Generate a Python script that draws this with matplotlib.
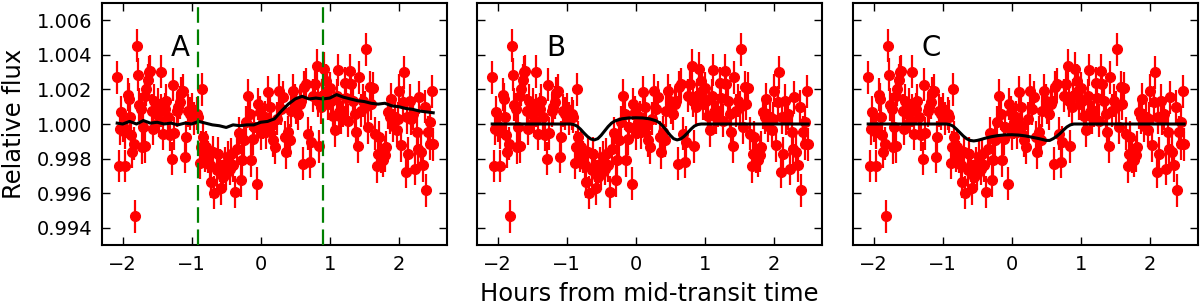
import numpy as np
import matplotlib
matplotlib.use('Agg')
import matplotlib.pyplot as plt
from matplotlib.ticker import FormatStrFormatter

# observed light curve (hours from mid-transit, flux deviation in parts per thousand)
time_h = [-2.08, -2.06, -2.04, -2.02, -1.99, -1.97, -1.96, -1.93, -1.91, -1.90,
          -1.88, -1.86, -1.84, -1.82, -1.80, -1.78, -1.76, -1.74, -1.72, -1.70,
          -1.68, -1.67, -1.66, -1.64, -1.62, -1.60, -1.58, -1.56, -1.54, -1.51,
          -1.49, -1.47, -1.45, -1.44, -1.42, -1.39, -1.37, -1.34, -1.32, -1.29,
          -1.27, -1.25, -1.22, -1.20, -1.17, -1.15, -1.13, -1.10, -1.08, -1.05,
          -1.03, -1.00, -0.97, -0.93, -0.91, -0.88, -0.87, -0.85, -0.83, -0.81,
          -0.79, -0.77, -0.74, -0.72, -0.69, -0.67, -0.64, -0.62, -0.59, -0.57,
          -0.55, -0.52, -0.50, -0.47, -0.45, -0.43, -0.40, -0.37, -0.34, -0.32,
          -0.29, -0.27, -0.24, -0.22, -0.18, -0.16, -0.14, -0.11, -0.09, -0.06,
          -0.04, -0.01, 0.01, 0.03, 0.06, 0.08, 0.11, 0.13, 0.15, 0.18,
          0.20, 0.24, 0.27, 0.29, 0.32, 0.35, 0.37, 0.40, 0.42, 0.44,
          0.47, 0.49, 0.51, 0.54, 0.57, 0.59, 0.61, 0.63, 0.65, 0.69,
          0.71, 0.73, 0.76, 0.78, 0.81, 0.83, 0.85, 0.87, 0.89, 0.92,
          0.94, 0.96, 0.98, 1.00, 1.02, 1.05, 1.07, 1.10, 1.12, 1.14,
          1.17, 1.19, 1.22, 1.24, 1.27, 1.29, 1.31, 1.34, 1.36, 1.38,
          1.41, 1.43, 1.46, 1.48, 1.51, 1.53, 1.56, 1.58, 1.60, 1.63,
          1.65, 1.68, 1.70, 1.72, 1.75, 1.77, 1.80, 1.82, 1.85, 1.87,
          1.89, 1.92, 1.94, 1.97, 1.99, 2.01, 2.04, 2.06, 2.08, 2.10,
          2.12, 2.14, 2.16, 2.18, 2.21, 2.24, 2.26, 2.28, 2.30, 2.33,
          2.35, 2.38, 2.40, 2.42, 2.45, 2.46, 2.48, 2.50]
flux_ppt = [2.70, -2.43, -0.28, 0.68, -0.10, -2.43, -0.47, 1.70, 1.45, 0.39,
            -0.66, -1.62, -1.14, -5.33, 4.52, 2.85, 1.12, 0.87, -1.34, -0.18,
            -1.30, 1.64, 2.02, 2.54, 2.98, 3.04, 0.78, -0.28, 1.35, 0.59,
            1.16, 0.20, 3.02, 0.78, -0.57, 0.87, 1.35, 0.39, -0.61, -2.01,
            2.27, -0.53, 0.78, 0.97, 1.26, 1.78, 1.93, -1.91, -0.76, 0.78,
            0.59, 0.87, 0.30, 0.59, 0.43, -2.26, -1.34, 2.02, -0.76, -1.82,
            -1.34, -1.91, -2.39, -3.35, -1.63, -3.98, -2.68, -1.72, -2.39, -3.73,
            -3.06, -2.30, -2.87, -1.91, -2.58, -1.76, -2.39, -3.93, -1.43, -0.53,
            -3.26, -2.10, -0.95, 0.11, 1.64, 0.59, -2.10, -0.86, -0.18, -3.46,
            1.16, 0.68, -0.53, 0.11, 0.39, -0.47, 1.84, 0.97, -0.09, -0.95,
            -1.34, 0.30, 1.93, 0.87, 1.54, -0.76, -1.63, -0.47, -0.95, 0.78,
            1.93, 1.35, 0.97, 0.59, 1.16, 1.35, -2.30, 2.12, 2.31, -0.57,
            -2.20, -1.05, 1.64, 2.31, 3.37, 1.35, -1.30, 0.97, 1.64, 3.21,
            2.50, 1.93, 1.16, 2.08, 1.35, 0.49, -0.37, 1.64, 3.12, 0.68,
            0.39, 0.78, 2.35, 1.51, 0.20, 3.08, 2.31, 1.35, 0.59, -0.47,
            -1.28, 2.70, 0.78, 1.35, 0.97, 4.33, -0.18, 2.12, 1.16, 2.08,
            -0.57, -2.45, -1.72, -0.76, -1.91, -2.10, -1.82, -1.34, 0.68, 0.39,
            1.45, -0.09, 0.39, -0.37, 0.30, 1.93, -1.24, 1.26, 2.98, -2.78,
            0.39, -1.72, 1.35, 0.30, 0.59, -2.58, -0.47, -1.43, 1.54, -1.63,
            -2.39, 1.01, -3.83, -0.47, -1.14, 0.11, 1.89, -1.18]
flux_err_ppt = 0.95

# model A: smoothed empirical curve
model_a_t = [-2.08, -2.0, -1.9, -1.8, -1.7, -1.6, -1.5, -1.4, -1.3, -1.2,
             -1.1, -1.0, -0.9, -0.8, -0.7, -0.6, -0.5, -0.4, -0.3, -0.2,
             -0.1, 0.0, 0.1, 0.2, 0.3, 0.4, 0.5, 0.6, 0.7, 0.8,
             0.9, 1.0, 1.1, 1.2, 1.3, 1.4, 1.5, 1.6, 1.7, 1.8,
             1.9, 2.0, 2.1, 2.2, 2.3, 2.4, 2.5]
model_a_ppt = [0.05, 0.0, 0.15, 0.0, 0.2, 0.05, 0.1, 0.0, 0.05, -0.05,
               0.05, 0.0, 0.15, 0.05, -0.05, -0.1, -0.2, -0.05, -0.1, -0.05,
               -0.05, 0.1, 0.15, 0.3, 0.75, 1.15, 1.45, 1.6, 1.45, 1.5,
               1.45, 1.5, 1.7, 1.55, 1.45, 1.35, 1.3, 1.2, 1.15, 1.2,
               1.05, 1.0, 0.9, 0.85, 0.75, 0.7, 0.65]

# model B: symmetric double dip
model_b_t = [-2.08, -0.95, -0.9, -0.85, -0.8, -0.75, -0.7, -0.65, -0.6, -0.55,
             -0.5, -0.45, -0.4, -0.35, -0.3, -0.2, -0.1, 0.0, 0.1, 0.2,
             0.3, 0.35, 0.4, 0.45, 0.5, 0.55, 0.6, 0.65, 0.7, 0.75,
             0.8, 0.85, 0.9, 0.95, 2.5]
model_b_ppt = [0.0, 0.0, -0.03, -0.12, -0.3, -0.52, -0.72, -0.87, -0.92, -0.85,
               -0.65, -0.4, -0.15, 0.05, 0.18, 0.3, 0.35, 0.36, 0.35, 0.3,
               0.18, 0.05, -0.15, -0.4, -0.65, -0.85, -0.92, -0.87, -0.72, -0.52,
               -0.3, -0.12, -0.03, 0.0, 0.0]

# model C: two dips joined by a shallow floor
model_c_t = [-2.08, -0.95, -0.9, -0.85, -0.8, -0.75, -0.7, -0.65, -0.6, -0.55,
             -0.5, -0.45, -0.4, -0.3, -0.2, -0.1, 0.0, 0.1, 0.2, 0.3,
             0.4, 0.45, 0.5, 0.55, 0.6, 0.65, 0.7, 0.75, 0.8, 0.85,
             0.9, 2.5]
model_c_ppt = [0.0, 0.0, -0.03, -0.12, -0.3, -0.5, -0.7, -0.86, -0.95, -0.98,
               -0.95, -0.9, -0.84, -0.74, -0.67, -0.63, -0.62, -0.64, -0.69, -0.77,
               -0.85, -0.9, -0.95, -0.95, -0.85, -0.72, -0.55, -0.35, -0.17, -0.05,
               0.0, 0.0]

window_edges = [-0.91, 0.91]
panel_labels = ['A', 'B', 'C']
x_ticks = [-2, -1, 0, 1, 2]
y_ticks = [0.994, 0.996, 0.998, 1.000, 1.002, 1.004, 1.006]

models = [(model_a_t, model_a_ppt), (model_b_t, model_b_ppt), (model_c_t, model_c_ppt)]
lefts = [102, 477, 853]

fig = plt.figure(figsize=(12, 3.05), dpi=100)
flux = 1 + np.array(flux_ppt) / 1000.0
err = flux_err_ppt / 1000.0

for i, left in enumerate(lefts):
    ax = fig.add_axes([left / 1200, 60 / 305, 345 / 1200, 242 / 305])
    ax.errorbar(time_h, flux, yerr=err, fmt='o', color='r', ms=7, mec='r',
                elinewidth=1.6, capsize=0, zorder=2)
    mt, mp = models[i]
    ax.plot(mt, 1 + np.array(mp) / 1000.0, color='k', lw=2.2, zorder=3)
    if i == 0:
        for xe in window_edges:
            ax.axvline(xe, color=(0, 0.5, 0), lw=1.6, ls='--', dashes=(7, 3), zorder=4)
    ax.text(-1.16, 1.0044, panel_labels[i], fontsize=20, ha='center', va='center')
    ax.set_xlim(-2.3, 2.7)
    ax.set_ylim(0.993, 1.007)
    ax.set_xticks(x_ticks)
    ax.set_yticks(y_ticks)
    ax.yaxis.set_major_formatter(FormatStrFormatter('%.3f'))
    ax.tick_params(direction='in', top=True, right=True, length=6, width=1,
                   labelsize=14, pad=7)
    for sp in ax.spines.values():
        sp.set_linewidth(1.5)
    if i == 0:
        ax.set_ylabel('Relative flux', fontsize=17.5, labelpad=8)
    else:
        ax.tick_params(labelleft=False)
    if i == 1:
        ax.set_xlabel('Hours from mid-transit time', fontsize=17.5, labelpad=6)

fig.savefig('out.png', dpi=100)
